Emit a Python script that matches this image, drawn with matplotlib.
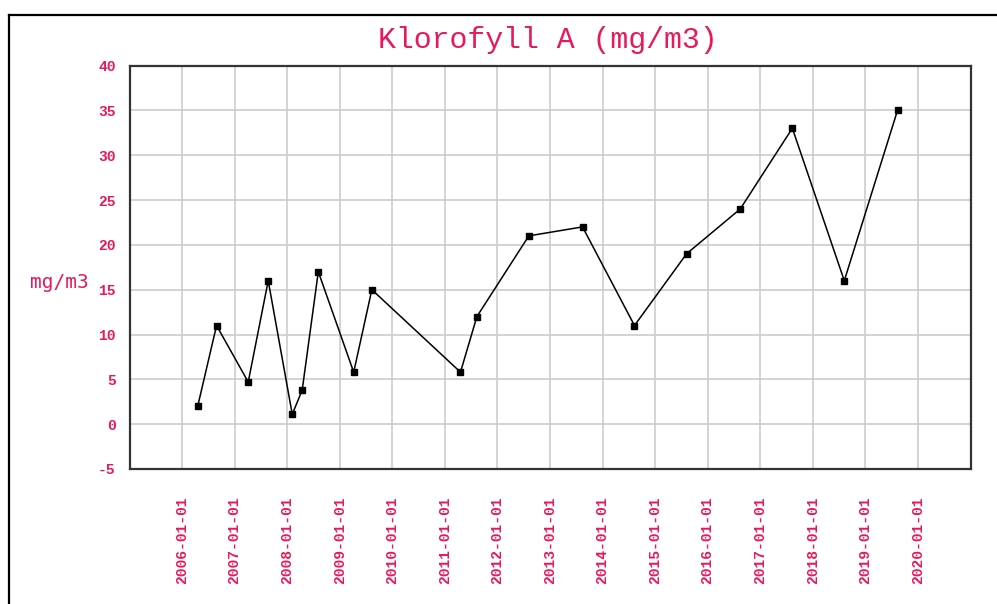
import matplotlib
matplotlib.use("Agg")
import matplotlib.pyplot as plt
from matplotlib.lines import Line2D
import datetime as dt

dates = ['2006-04-20', '2006-08-29', '2007-04-06', '2007-08-23', '2008-02-06',
         '2008-04-15', '2008-08-05', '2009-04-08', '2009-08-12', '2011-04-20',
         '2011-08-12', '2012-08-07', '2013-08-15', '2014-08-11', '2015-08-08',
         '2016-08-15', '2017-08-12', '2018-08-08', '2019-08-13']
values = [2, 11, 4.7, 16, 1.1, 3.8, 17, 5.8, 15, 5.8, 12, 21, 22, 11, 19, 24, 33, 16, 35]
tick_years = list(range(2006, 2021))
y_ticks = [-5, 0, 5, 10, 15, 20, 25, 30, 35, 40]

title = "Klorofyll A (mg/m3)"
ylabel = "mg/m3"
pink = "#e8185c"
mono = ["Liberation Mono", "DejaVu Sans Mono"]

x = [dt.datetime.strptime(d, "%Y-%m-%d") for d in dates]

W, H = 997, 604
fig = plt.figure(figsize=(W / 100, H / 100), dpi=100)
fig.patch.set_facecolor("white")

# outer frame (top and left edges visible)
fig.add_artist(Line2D([9 / W, 1.0], [1 - 15 / H, 1 - 15 / H], color="black", lw=1.6,
                      transform=fig.transFigure))
fig.add_artist(Line2D([9 / W, 9 / W], [1 - 15 / H, 0.0], color="black", lw=1.6,
                      transform=fig.transFigure))

l, r, t, b = 129.5, 970.5, 65.5, 469
ax = fig.add_axes([l / W, 1 - b / H, (r - l) / W, (b - t) / H])

ax.plot(x, values, color="black", lw=1.1, marker="s", markersize=4.3,
        markerfacecolor="black", markeredgecolor="black", zorder=3)

ax.set_xlim(dt.datetime(2005, 1, 1), dt.datetime(2021, 1, 1))
ax.set_ylim(-5, 40)
ax.set_yticks(y_ticks)
xt = [dt.datetime(y, 1, 1) for y in tick_years]
ax.set_xticks(xt)
ax.set_xticklabels([d.strftime("%Y-%m-%d") for d in xt], rotation=90,
                   fontfamily=mono, fontsize=10.5, color=pink, fontweight="bold")
ax.set_yticklabels([str(v) for v in y_ticks], fontfamily=mono, fontsize=10.5,
                   color=pink, fontweight="bold")
ax.tick_params(axis="x", length=0, pad=20)
ax.tick_params(axis="y", length=0, pad=10)

ax.grid(True, color="#cccccc", lw=1.2, zorder=0)
ax.set_axisbelow(True)
for s in ax.spines.values():
    s.set_color("#333333")
    s.set_linewidth(1.6)

fig.text(59 / W, 1 - 282 / H, ylabel, ha="center", va="center", color=pink,
         fontfamily=["DejaVu Sans Mono"], fontsize=14)
fig.text(548 / W, 1 - 40 / H, title, ha="center", va="center", color=pink,
         fontfamily=mono, fontsize=21.5)

fig.savefig("out.png", dpi=100, facecolor="white")
